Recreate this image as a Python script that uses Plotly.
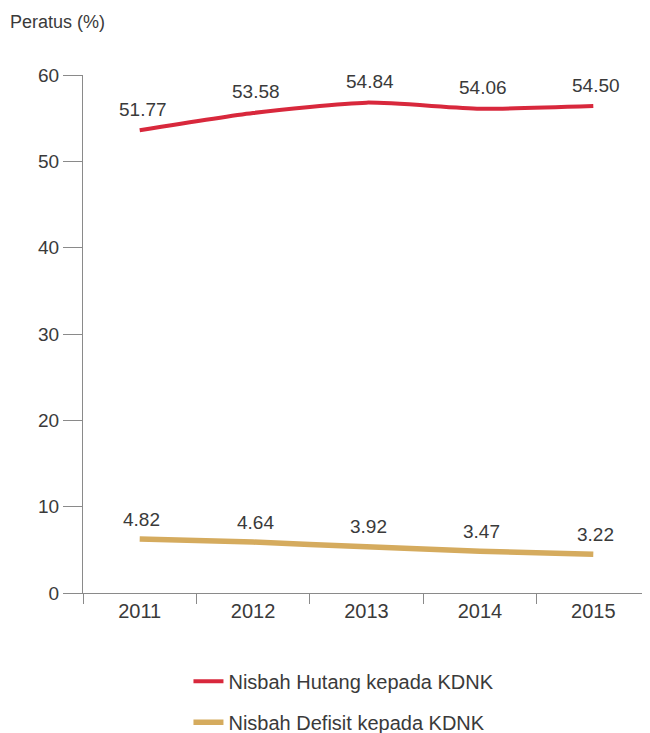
import plotly.graph_objects as go

years = ["2011", "2012", "2013", "2014", "2015"]
# Line positions as drawn in the reference
hutang_drawn = [53.6, 55.6, 56.8, 56.1, 56.4]
defisit_drawn = [6.25, 5.9, 5.35, 4.85, 4.5]
# Printed data labels
hutang_labels = ["51.77", "53.58", "54.84", "54.06", "54.50"]
defisit_labels = ["4.82", "4.64", "3.92", "3.47", "3.22"]
y_ticks = [0, 10, 20, 30, 40, 50, 60]

RED = "#d8283c"
GOLD = "#d5ab5e"
TXT = "#3a3a3a"
FONT = "Liberation Sans, Arial, sans-serif"

fig = go.Figure()
fig.add_trace(go.Scatter(x=years, y=hutang_drawn, mode="lines",
                         line=dict(color=RED, width=4, shape="spline", smoothing=0.6),
                         name="Nisbah Hutang kepada KDNK", legendgroup="a"))
fig.add_trace(go.Scatter(x=years, y=defisit_drawn, mode="lines",
                         line=dict(color=GOLD, width=5.5, shape="spline", smoothing=0.6),
                         name="Nisbah Defisit kepada KDNK", legendgroup="b"))

# annotations on a category axis use the category index
for i, (v, t) in enumerate(zip(hutang_drawn, hutang_labels)):
    fig.add_annotation(x=i, y=v, text=t, showarrow=False, yshift=21, xshift=3,
                       font=dict(size=19, color=TXT, family=FONT))
for i, (v, t) in enumerate(zip(defisit_drawn, defisit_labels)):
    fig.add_annotation(x=i, y=v, text=t, showarrow=False, yshift=20, xshift=2,
                       font=dict(size=19, color=TXT, family=FONT))

fig.update_layout(
    width=650, height=733,
    margin=dict(l=75, r=8, t=67, b=148),
    paper_bgcolor="white", plot_bgcolor="white",
    font=dict(family=FONT, color=TXT, size=18),
    title=dict(text="Peratus (%)", x=0.003, xanchor="left", xref="container",
               y=0.981, yanchor="middle", yref="container",
               font=dict(size=18, color=TXT, family=FONT)),
    showlegend=True,
    legend=dict(x=0.186, y=0.108, xanchor="left", yanchor="top", yref="container",
                orientation="v", tracegroupgap=12,
                font=dict(size=20, color=TXT, family=FONT),
                bgcolor="rgba(0,0,0,0)"),
)
fig.update_xaxes(type="category", categoryorder="array", categoryarray=years,
                 range=[-0.5, 4.5], showline=True, linecolor="#8a8a8a", linewidth=1,
                 ticks="outside", tickson="boundaries", ticklen=10, tickcolor="#8a8a8a",
                 showgrid=False, zeroline=False, tickfont=dict(size=20, color=TXT))
fig.update_yaxes(range=[0, 60], tickvals=y_ticks, showline=True, linecolor="#8a8a8a",
                 linewidth=1, ticks="outside", ticklen=19, tickcolor="#8a8a8a",
                 showgrid=False, zeroline=False, tickfont=dict(size=19, color=TXT))

fig.write_html("out.html")
